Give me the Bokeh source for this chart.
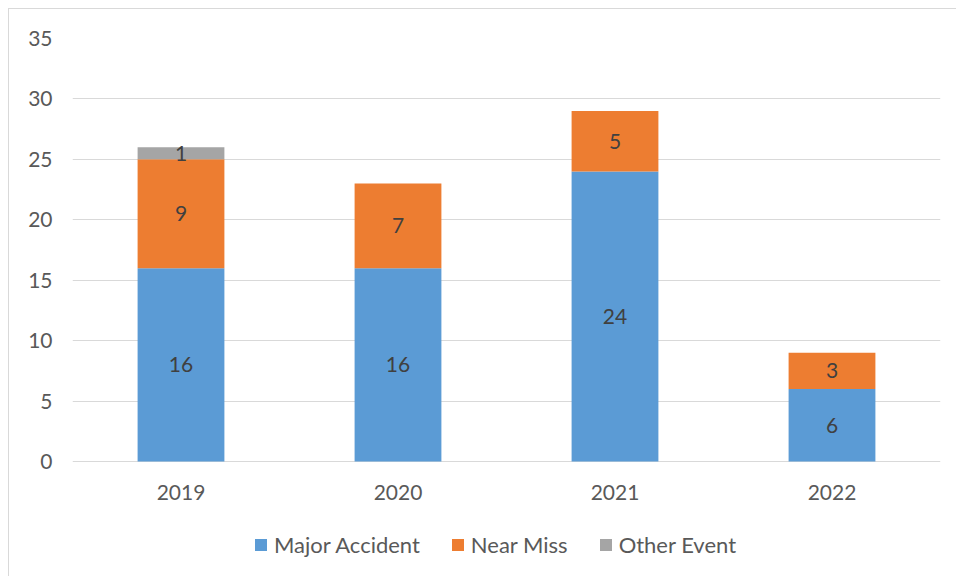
from bokeh.plotting import figure
from bokeh.models import ColumnDataSource, LabelSet, FactorRange, Legend, LegendItem
from bokeh.core.properties import value
from bokeh.embed import file_html
from bokeh.resources import INLINE

years = ["2019", "2020", "2021", "2022"]
major_accident = [16, 16, 24, 6]
near_miss = [9, 7, 5, 3]
other_event = [1, 0, 0, 0]
y_ticks = [0, 5, 10, 15, 20, 25, 30, 35]

series = ["Major Accident", "Near Miss", "Other Event"]
colors = ["#5B9BD5", "#ED7D31", "#A5A5A5"]
FONT = "Lato"

W, H, TOP = 948, 568, 29
FRAME_H = H - TOP
Y_MAX = 35
PX_PER_UNIT = 423 / 35.0
y_start = Y_MAX - FRAME_H / PX_PER_UNIT

src = ColumnDataSource(dict(years=years, **{"Major Accident": major_accident,
                                            "Near Miss": near_miss,
                                            "Other Event": other_event}))

p = figure(x_range=FactorRange(*years), y_range=(y_start, Y_MAX), width=W, height=H,
           output_backend="svg", toolbar_location=None,
           min_border_left=63, min_border_right=17, min_border_top=TOP, min_border_bottom=0)
p.outline_line_color = None
p.styles = {"margin-left": "8px", "margin-top": "8px",
            "border-left": "1px solid #d9d9d9", "border-top": "1px solid #d9d9d9"}

renderers = p.vbar_stack(series, x="years", width=0.4, color=colors, source=src, line_width=0)

# data labels
lx, ly, lt = [], [], []
for i, y in enumerate(years):
    base = 0
    for vals in (major_accident, near_miss, other_event):
        v = vals[i]
        if v > 0:
            lx.append(y)
            ly.append(base + v / 2)
            lt.append(str(v))
        base += v
lsrc = ColumnDataSource(dict(x=lx, y=ly, t=lt))
p.add_layout(LabelSet(x="x", y="y", text="t", source=lsrc, text_align="center",
                      text_baseline="middle", text_font=value(FONT), text_font_size="21px",
                      text_color="#404040"))

# category labels under the zero line
csrc = ColumnDataSource(dict(x=years, y=[0] * len(years), t=years))
p.add_layout(LabelSet(x="x", y="y", text="t", source=csrc, text_align="center",
                      text_baseline="middle", y_offset=-31, text_font=value(FONT),
                      text_font_size="21px", text_color="#595959"))

p.xaxis.visible = False
p.xgrid.grid_line_color = None
p.ygrid.ticker = y_ticks
p.ygrid.grid_line_color = "#d9d9d9"
p.ygrid.grid_line_width = 1
p.yaxis.ticker = y_ticks
p.yaxis.major_tick_line_color = None
p.yaxis.minor_tick_line_color = None
p.yaxis.major_label_text_font = FONT
p.yaxis.major_label_text_font_size = "21px"
p.yaxis.major_label_text_color = "#595959"
p.yaxis.axis_line_color = None
p.yaxis.major_label_standoff = 14

legend = Legend(items=[LegendItem(label=s, renderers=[r]) for s, r in zip(series, renderers)],
                orientation="horizontal", location=(181, 19), border_line_color=None,
                label_text_font=FONT, label_text_font_size="22px", label_text_color="#595959",
                glyph_width=15, glyph_height=15, label_standoff=6, spacing=30,
                margin=0, padding=4, background_fill_alpha=0)
p.add_layout(legend, "center")

open("out.html", "w").write(file_html(p, INLINE))
